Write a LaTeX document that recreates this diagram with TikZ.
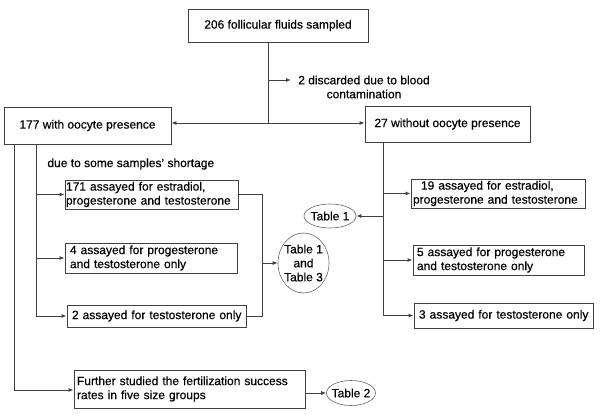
\documentclass[tikz,border=0pt]{standalone}
\usepackage{fontspec}
\setmainfont[FakeBold=0.4]{Liberation Sans}
\usetikzlibrary{arrows.meta,shapes.geometric}
\newcommand{\nwline}[1]{\makebox[0pt][l]{#1}}
\begin{document}
\begin{tikzpicture}[x=1pt,y=-1pt, font=\fontsize{12}{14}\selectfont,
 line width=0.9pt,
 box/.style={draw=black!75, rectangle, inner ysep=0pt, align=left},
 cbox/.style={draw=black!75, rectangle, inner sep=0pt, align=center},
 oval/.style={draw=black!60, ellipse, inner ysep=0pt, align=center, line width=0.6pt},
 arr/.style={-{Latex[length=5pt,width=4pt]}},
 ln/.style={draw=black!75}]
\useasboundingbox (0,0) rectangle (600,419);
% boxes
\node[cbox, minimum width=180, minimum height=33] (top) at (278,25.5) {206 follicular fluids sampled};
\node[cbox, minimum width=167, minimum height=37] (L) at (87.5,125.5) {177 with oocyte presence};
\node[cbox, minimum width=165, minimum height=36] (R) at (447.5,124) {27 without oocyte presence};
\node[align=center, inner sep=0pt] (disc) at (364,87) {2 discarded due to blood\\contamination};
\node[anchor=west, inner sep=0pt] (short) at (47,164) {due to some samples' shortage};
\node[box, inner xsep=1pt, text width=171, minimum height=29] (b171) at (151.5,194.5) {\nwline{171 assayed for estradiol,}\\\nwline{progesterone and testosterone}};
\node[box, inner xsep=5pt, text width=162, minimum height=30] (b4) at (151,258) {\nwline{4 assayed for progesterone}\\\nwline{and testosterone only}};
\node[box, inner xsep=5pt, text width=169, minimum height=22] (b2) at (156.5,316) {\nwline{2 assayed for testosterone only}};
\node[box, inner xsep=3pt, text width=225, minimum height=38] (bF) at (189.5,389) {\nwline{Further studied the fertilization success}\\\nwline{rates in five size groups}};
\node[box, inner xsep=2pt, text width=170, minimum height=29] (b19) at (498,193.5) {\nwline{\hspace*{8pt}19 assayed for estradiol,}\\\nwline{progesterone and testosterone}};
\node[box, inner xsep=4pt, text width=163, minimum height=30] (b5) at (498.5,260) {\nwline{5 assayed for progesterone}\\\nwline{and testosterone only}};
\node[box, inner xsep=5pt, text width=169, minimum height=25] (b3) at (503.5,315.5) {\nwline{3 assayed for testosterone only}};
% ovals
\node[oval, inner xsep=-4pt, minimum width=51, minimum height=60] (T13) at (303.5,263) {Table 1\\and\\Table 3};
\node[oval, inner xsep=-2pt, minimum width=52, minimum height=24] (T1) at (330,216) {Table 1};
\node[oval, inner xsep=-3pt, minimum width=49, minimum height=25] (T2) at (351,393) {Table 2};
% top connectors
\coordinate (j) at (268,123);
\coordinate (d) at (268,80);
\coordinate (dend) at (291,80);
\draw[ln] (top.south -| j) -- (j);
\draw[ln,arr] (j) -- (j -| L.east);
\draw[ln,arr] (j) -- (j -| R.west);
\draw[ln,arr] (d) -- (dend);
% left outer
\coordinate (xo) at (14,390);
\draw[ln,arr] (L.south -| xo) -- (xo) -- (xo -| bF.west);
% left inner
\coordinate (xi) at (36,0);
\draw[ln] (L.south -| xi) -- (b2.west -| xi);
\draw[ln,arr] (b171.west -| xi) -- (b171.west);
\draw[ln,arr] (b4.west -| xi) -- (b4.west);
\draw[ln,arr] (b2.west -| xi) -- (b2.west);
% bracket
\coordinate (br) at (262,0);
\draw[ln] (b171.east) -- (b171.east -| br) -- (b2.east -| br) -- (b2.east);
\draw[ln,arr] (T13.west -| br) -- (T13.west);
% right
\coordinate (xr) at (383,0);
\draw[ln] (R.south -| xr) -- (b3.west -| xr);
\draw[ln,arr] (b19.west -| xr) -- (b19.west);
\draw[ln,arr] (b5.west -| xr) -- (b5.west);
\draw[ln,arr] (b3.west -| xr) -- (b3.west);
\draw[ln,arr] (T1.east -| xr) -- (T1.east);
% table 2
\draw[ln,arr] (bF.east |- T2.west) -- (T2.west);
\end{tikzpicture}
\end{document}
